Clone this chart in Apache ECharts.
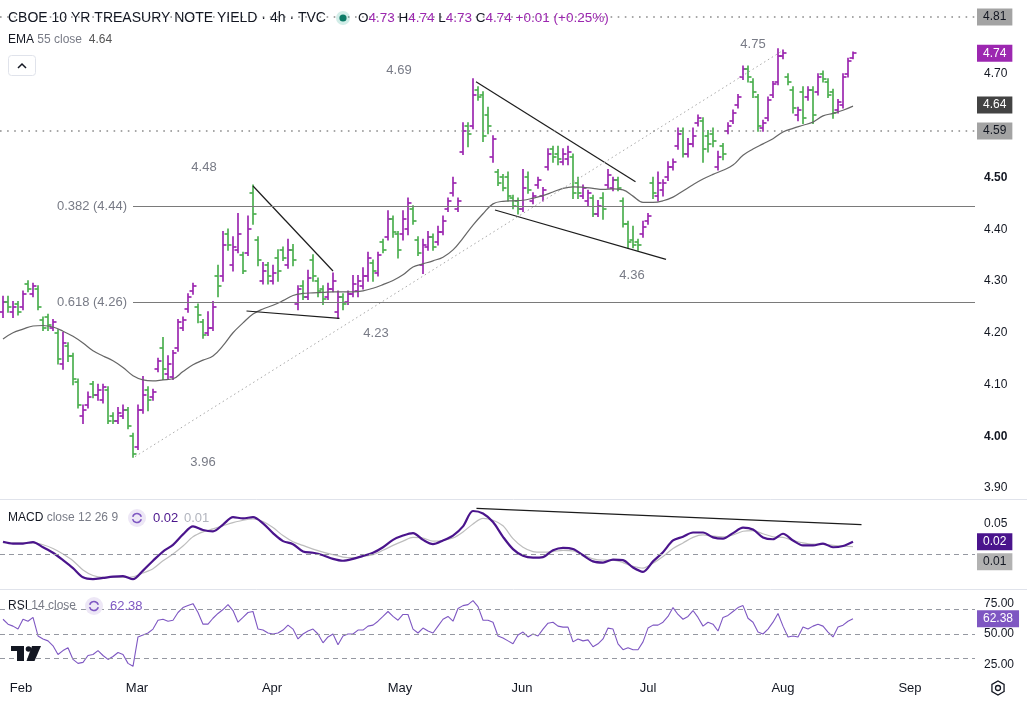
<!DOCTYPE html>
<html><head><meta charset="utf-8">
<script src="https://cdn.jsdelivr.net/npm/echarts@6.0.0/dist/echarts.min.js"></script>
<style>html,body{margin:0;padding:0;background:#fff}#c{width:1027px;height:703px}</style>
</head><body><div id="c"></div>
<script>
// ---------- DATA ----------
const opens = [
4.24,4.26,4.24,4.255,4.25,4.295,4.275,4.285,4.225,4.23,
4.21,4.20,4.14,4.175,4.155,4.105,4.04,4.06,4.10,4.08,
4.07,4.09,4.04,4.03,4.04,4.05,4.00,3.98,4.05,4.09,
4.075,4.13,4.17,4.12,4.115,4.17,4.21,4.245,4.28,4.25,
4.22,4.20,4.21,4.31,4.31,4.39,4.33,4.36,4.35,4.355,
4.47,4.38,4.30,4.33,4.30,4.345,4.36,4.33,4.36,4.255,
4.29,4.27,4.34,4.30,4.285,4.27,4.285,4.24,4.27,4.26,
4.275,4.28,4.29,4.31,4.335,4.315,4.375,4.385,4.42,4.39,
4.39,4.40,4.44,4.38,4.33,4.365,4.385,4.375,4.395,4.44,
4.47,4.44,4.55,4.60,4.60,4.67,4.66,4.62,4.54,4.51,
4.50,4.50,4.46,4.455,4.44,4.50,4.455,4.485,4.465,4.52,
4.555,4.545,4.53,4.535,4.54,4.49,4.465,4.455,4.46,4.43,
4.46,4.485,4.48,4.495,4.455,4.41,4.38,4.375,4.39,4.415,
4.49,4.465,4.475,4.50,4.52,4.56,4.59,4.545,4.565,4.605,
4.61,4.58,4.585,4.52,4.56,4.59,4.61,4.64,4.695,4.71,
4.685,4.655,4.595,4.615,4.66,4.685,4.735,4.695,4.67,4.62,
4.665,4.655,4.67,4.665,4.70,4.685,4.665,4.63,4.64,4.70,
4.73];
const highs = [
4.27,4.27,4.26,4.26,4.28,4.30,4.295,4.29,4.23,4.235,
4.225,4.205,4.20,4.18,4.16,4.11,4.06,4.085,4.105,4.10,
4.10,4.095,4.045,4.055,4.06,4.055,4.005,4.06,4.115,4.095,
4.09,4.15,4.19,4.155,4.165,4.225,4.23,4.275,4.295,4.255,
4.225,4.24,4.26,4.33,4.395,4.40,4.385,4.43,4.355,4.425,
4.485,4.385,4.335,4.335,4.33,4.36,4.365,4.38,4.37,4.29,
4.30,4.32,4.35,4.305,4.29,4.295,4.315,4.28,4.275,4.28,
4.31,4.31,4.325,4.355,4.34,4.355,4.38,4.435,4.425,4.395,
4.435,4.46,4.445,4.385,4.38,4.395,4.39,4.405,4.425,4.46,
4.50,4.46,4.605,4.605,4.69,4.675,4.665,4.635,4.58,4.515,
4.505,4.51,4.465,4.46,4.515,4.51,4.47,4.50,4.48,4.555,
4.56,4.56,4.555,4.56,4.545,4.50,4.485,4.475,4.465,4.455,
4.47,4.515,4.50,4.50,4.46,4.415,4.405,4.38,4.415,4.43,
4.50,4.51,4.495,4.53,4.535,4.595,4.595,4.575,4.595,4.62,
4.615,4.59,4.595,4.55,4.565,4.605,4.63,4.66,4.715,4.715,
4.69,4.66,4.61,4.655,4.685,4.748,4.746,4.70,4.675,4.635,
4.675,4.675,4.675,4.70,4.705,4.69,4.67,4.65,4.70,4.73,
4.742];
const lows = [
4.23,4.24,4.23,4.235,4.245,4.28,4.27,4.245,4.205,4.205,
4.205,4.14,4.13,4.145,4.10,4.055,4.025,4.055,4.075,4.07,
4.065,4.025,4.025,4.025,4.035,4.015,3.96,3.975,4.045,4.05,
4.07,4.125,4.11,4.11,4.11,4.165,4.205,4.24,4.275,4.22,
4.19,4.195,4.205,4.27,4.30,4.36,4.32,4.355,4.315,4.35,
4.41,4.33,4.295,4.295,4.295,4.30,4.34,4.325,4.33,4.245,
4.265,4.265,4.30,4.27,4.255,4.265,4.28,4.228,4.245,4.255,
4.27,4.27,4.285,4.30,4.30,4.31,4.355,4.38,4.385,4.345,
4.38,4.39,4.41,4.35,4.315,4.36,4.36,4.37,4.39,4.435,
4.465,4.435,4.545,4.56,4.595,4.65,4.57,4.585,4.53,4.485,
4.475,4.455,4.44,4.43,4.435,4.47,4.45,4.48,4.455,4.515,
4.53,4.525,4.525,4.525,4.46,4.46,4.46,4.445,4.425,4.425,
4.42,4.48,4.475,4.475,4.405,4.365,4.365,4.36,4.385,4.41,
4.46,4.455,4.465,4.495,4.515,4.555,4.54,4.54,4.56,4.60,
4.53,4.55,4.56,4.515,4.535,4.585,4.605,4.635,4.69,4.685,
4.655,4.59,4.59,4.61,4.655,4.68,4.73,4.68,4.625,4.61,
4.605,4.65,4.605,4.66,4.685,4.655,4.615,4.625,4.635,4.695,
4.73];
const closes = [
4.26,4.25,4.25,4.24,4.275,4.285,4.29,4.25,4.21,4.215,
4.22,4.15,4.18,4.155,4.11,4.06,4.05,4.075,4.08,4.09,
4.095,4.03,4.03,4.045,4.05,4.02,3.965,4.05,4.08,4.07,
4.085,4.145,4.13,4.14,4.16,4.22,4.225,4.27,4.29,4.235,
4.195,4.21,4.25,4.29,4.37,4.37,4.365,4.39,4.32,4.40,
4.43,4.34,4.32,4.31,4.315,4.32,4.345,4.36,4.34,4.285,
4.27,4.305,4.31,4.28,4.265,4.285,4.30,4.27,4.255,4.275,
4.295,4.30,4.31,4.345,4.32,4.35,4.36,4.42,4.395,4.36,
4.42,4.45,4.415,4.355,4.37,4.385,4.365,4.395,4.415,4.455,
4.49,4.455,4.59,4.585,4.66,4.655,4.58,4.60,4.575,4.49,
4.48,4.465,4.445,4.44,4.48,4.475,4.465,4.495,4.475,4.545,
4.54,4.535,4.545,4.55,4.47,4.47,4.48,4.47,4.43,4.445,
4.44,4.505,4.495,4.48,4.41,4.375,4.37,4.37,4.405,4.425,
4.47,4.49,4.49,4.52,4.53,4.585,4.545,4.565,4.58,4.615,
4.555,4.565,4.57,4.54,4.545,4.60,4.625,4.655,4.71,4.695,
4.665,4.60,4.605,4.65,4.68,4.735,4.74,4.685,4.635,4.63,
4.615,4.67,4.62,4.695,4.69,4.66,4.625,4.645,4.695,4.725,
4.74];
// EMA 55, MACD and signal: one reading every second bar
const ema55 = [
4.188,4.200,4.207,4.213,4.214,4.211,4.203,4.193,4.180,4.165,
4.155,4.146,4.133,4.117,4.109,4.107,4.109,4.111,4.125,4.138,
4.147,4.155,4.175,4.200,4.219,4.236,4.246,4.253,4.262,4.272,
4.276,4.277,4.278,4.279,4.279,4.279,4.281,4.286,4.293,4.301,
4.312,4.327,4.333,4.339,4.346,4.360,4.383,4.408,4.430,4.449,
4.454,4.455,4.456,4.460,4.465,4.472,4.479,4.482,4.481,4.479,
4.477,4.478,4.476,4.464,4.452,4.452,4.455,4.462,4.474,4.486,
4.497,4.506,4.514,4.524,4.543,4.555,4.565,4.575,4.588,4.595,
4.601,4.607,4.619,4.624,4.630,4.638];
const macdLine = [
0.020,0.017,0.017,0.0195,0.011,0.002,-0.010,-0.023,-0.038,-0.041,
-0.039,-0.037,-0.036,-0.041,-0.027,-0.011,0.004,0.015,0.032,0.045,
0.039,0.037,0.048,0.060,0.058,0.060,0.050,0.034,0.021,0.016,
0.004,0.002,-0.002,-0.008,-0.011,-0.008,-0.003,0.002,0.011,0.023,
0.030,0.034,0.023,0.016,0.022,0.030,0.045,0.070,0.066,0.052,
0.028,0.008,-0.003,-0.006,-0.005,0.006,0.010,0.008,-0.002,-0.012,
-0.014,-0.009,-0.010,-0.022,-0.029,-0.012,0.003,0.022,0.028,0.035,
0.035,0.027,0.025,0.034,0.043,0.040,0.027,0.024,0.033,0.022,
0.014,0.014,0.017,0.011,0.013,0.020];
const signalLine = [
0.018,0.018,0.018,0.018,0.015,0.009,0.000,-0.011,-0.026,-0.035,
-0.038,-0.038,-0.038,-0.037,-0.031,-0.024,-0.011,0.000,0.013,0.028,
0.036,0.041,0.046,0.051,0.055,0.057,0.053,0.043,0.030,0.020,
0.014,0.008,0.003,-0.001,-0.005,-0.006,-0.004,-0.001,0.006,0.014,
0.021,0.027,0.026,0.021,0.022,0.026,0.036,0.049,0.058,0.055,
0.046,0.025,0.011,0.004,0.003,0.004,0.006,0.005,-0.001,-0.008,
-0.010,-0.010,-0.014,-0.020,-0.023,-0.015,-0.004,0.009,0.018,0.027,
0.031,0.029,0.028,0.031,0.037,0.038,0.033,0.028,0.027,0.022,
0.018,0.016,0.016,0.014,0.013,0.012];
const rsi14 = [
62.0,58.0,56.4,54.0,62.0,60.4,63.5,48.4,46.0,44.4,
40.4,33.3,36.5,38.8,29.3,26.1,26.9,32.5,33.3,36.5,
32.5,29.3,31.7,34.9,33.3,26.1,23.7,47.6,49.2,50.8,
54.0,61.2,62.0,60.4,61.2,67.5,71.5,73.1,74.7,67.5,
58.0,58.0,62.8,66.7,69.9,73.9,69.1,59.6,63.5,67.5,
68.3,54.0,53.2,50.8,50.0,50.8,53.2,57.2,54.0,46.0,
50.0,52.4,54.0,50.0,42.8,47.6,50.0,41.2,48.4,50.0,
50.0,53.2,53.2,56.4,57.2,60.4,64.3,68.3,64.3,61.2,
65.9,65.9,54.0,50.8,54.8,52.4,50.8,56.4,62.0,64.3,
60.4,70.7,73.1,73.9,77.1,72.3,61.2,61.2,59.6,48.4,
46.8,44.4,42.0,49.2,51.6,47.6,50.0,48.4,54.0,58.8,
59.6,56.4,55.6,55.6,43.6,46.0,44.4,45.2,39.6,42.0,
46.0,54.8,54.0,42.0,37.2,38.8,37.2,37.2,43.6,54.8,
57.2,57.2,59.6,64.3,71.5,65.9,62.0,64.3,69.1,63.5,
56.4,59.6,58.0,52.4,63.5,65.1,68.3,71.5,73.1,62.8,
59.6,51.6,50.0,54.0,59.6,66.7,56.4,47.6,48.4,47.6,
55.6,54.0,56.4,58.0,56.4,51.6,47.6,55.6,57.2,60.4,
62.38];
const monthNames = ['Feb','Mar','Apr','May','Jun','Jul','Aug','Sep'];
const monthBar   = [3.6, 26.8, 53.8, 79.4, 103.8, 129, 156, 181.4];
const priceTicks = [3.9,4.0,4.1,4.2,4.3,4.4,4.5,4.7];
const macdTicks = [0.05];
const rsiTicks = [25,50,75];
const rsiBands = [70,50,30];
// drawings, in (bar index, value)
const trendLines = [
  [[50,4.4836],[66,4.3193]],
  [[48.7,4.2420],[67.3,4.2279]],
  [[94.6,4.6851],[126.5,4.4919]],
  [[98.4,4.4372],[132.6,4.3419]]
];
const channelLine = [[26.4,3.9605],[155.9,4.745]];
const fibLevels = [{name:'0.382 (4.44)', value:4.444, fromBar:26},{name:'0.618 (4.26)', value:4.2588, fromBar:26}];
const hLevels = [4.8063, 4.5899];
const pivotTexts = ['4.48','3.96','4.23','4.69','4.36','4.75'];
const pivotAt = [[40.2,4.52],[40,3.950],[74.6,4.1995],[79.2,4.7077],[125.8,4.3116],[150,4.758]];
const macdTrend = [[94.7,0.0744],[171.7,0.0478]];
const lastClose = 4.74, lastEma = 4.64, lastMacd = 0.02, lastSignal = 0.012, lastRsi = 62.38;

// ---------- CHART ----------
const UP = '#9c27b0', DOWN = '#4caf50';
const FONT = '"Liberation Sans", Arial, sans-serif';
const X_MIN = -0.6, X_MAX = 194.4;
const bars = opens.map((o,i)=>[i,o,highs[i],lows[i],closes[i]]);
const emaData = ema55.map((v,k)=>[k*2,v]);
const macdData = macdLine.map((v,k)=>[k*2,v]);
const sigData = signalLine.map((v,k)=>[k*2,v]);
const rsiData = rsi14.map((v,i)=>[i,v]);

function tag(value, text, bg, fg, offsetY){
  return {yAxis:value, lineStyle:{color:'rgba(0,0,0,0)'},
    label:{show:true, position:'end', formatter:text, color:fg, backgroundColor:bg,
      padding:[3,6,2,6], fontSize:12, fontFamily:FONT, distance:2, offset:[0, offsetY||0]}};
}

const chart = echarts.init(document.getElementById('c'));
const axisCommon = {splitLine:{show:false}, axisLine:{show:false}, axisTick:{show:false}};
const LEG = 12, HDR = 13.5;
const option = {
  animation:false,
  backgroundColor:'#ffffff',
  textStyle:{fontFamily:FONT},
  grid:[
    {left:0, right:52, top:0, height:499},
    {left:0, right:52, top:500, height:89},
    {left:0, right:52, top:590, height:80}
  ],
  xAxis:[0,1,2].map(g=>Object.assign({type:'value', gridIndex:g, min:X_MIN, max:X_MAX}, axisCommon, {
    axisLabel: g===2 ? {customValues:monthBar, color:'#131722', fontSize:13, margin:12,
      formatter:(v)=>{let b=0;monthBar.forEach((m,k)=>{if(Math.abs(m-v)<Math.abs(monthBar[b]-v))b=k;});return monthNames[b];}} : {show:false}
  })),
  yAxis:[
    Object.assign({type:'value', gridIndex:0, position:'right', min:3.8787, max:4.843}, axisCommon, {
      axisLabel:{customValues:priceTicks, color:'#131722', fontSize:12, margin:9,
        formatter:(v)=> (Math.abs(v-4.0)<1e-9||Math.abs(v-4.5)<1e-9) ? '{b|'+v.toFixed(2)+'}' : v.toFixed(2),
        rich:{b:{fontWeight:'bold', fontSize:12, color:'#131722', fontFamily:FONT}}}}),
    Object.assign({type:'value', gridIndex:1, position:'right', min:-0.057, max:0.08795}, axisCommon, {
      axisLabel:{customValues:macdTicks, color:'#131722', fontSize:12, margin:9, formatter:(v)=>v.toFixed(2)}}),
    Object.assign({type:'value', gridIndex:2, position:'right', min:20.7, max:85.8}, axisCommon, {
      axisLabel:{customValues:rsiTicks, color:'#131722', fontSize:12, margin:9, formatter:(v)=>v.toFixed(2)}})
  ],
  series:[
    {
      type:'custom', name:'ohlc', xAxisIndex:0, yAxisIndex:0, z:3,
      encode:{x:0, y:[1,2,3,4]},
      data:bars,
      renderItem:(params, api)=>{
        const i = api.value(0);
        const o = api.value(1), h = api.value(2), l = api.value(3), c = api.value(4);
        const po = api.coord([i,o]), ph = api.coord([i,h]), pl = api.coord([i,l]), pc = api.coord([i,c]);
        const x = Math.round(po[0]);
        const oy = Math.round(po[1]), cy = Math.round(pc[1]);
        const col = c >= o ? UP : DOWN;
        const st = {stroke:col, lineWidth:1.7};
        return {type:'group', children:[
          {type:'line', shape:{x1:x, y1:ph[1]-0.8, x2:x, y2:pl[1]+0.8}, style:st},
          {type:'line', shape:{x1:x-3.5, y1:oy, x2:x, y2:oy}, style:st},
          {type:'line', shape:{x1:x, y1:cy, x2:x+3.5, y2:cy}, style:st}
        ]};
      }
    },
    {
      type:'line', name:'EMA 55', xAxisIndex:0, yAxisIndex:0, data:emaData, smooth:0.4,
      symbol:'none', clip:false, z:4,
      lineStyle:{color:'#666666', width:1.2},
      markLine:{
        silent:true, symbol:['none','none'], animation:false,
        label:{show:false},
        data:[].concat(
          trendLines.map(t=>[{coord:t[0], lineStyle:{color:'#1c1c1c', width:1.2, type:'solid'}},{coord:t[1]}]),
          [[{coord:channelLine[0], lineStyle:{color:'#a8a8a8', width:1, type:[1.5,3]}},{coord:channelLine[1]}]],
          fibLevels.map(f=>[{coord:[f.fromBar,f.value], lineStyle:{color:'#7a7a7a', width:1, type:'solid'},
            label:{show:true, position:'start', formatter:f.name, color:'#787b86', fontSize:13, fontFamily:FONT, distance:6}},
            {coord:[X_MAX,f.value]}]),
          hLevels.map(v=>{const t=tag(v, v.toFixed(2), '#a3a3a3', '#131722'); t.lineStyle={color:'#8a8a8a', width:1.6, type:[1.6,5.5]}; return t;}),
          [tag(lastClose, lastClose.toFixed(2), '#9c27b0', '#ffffff'), tag(lastEma, lastEma.toFixed(2), '#434343', '#ffffff')]
        )
      },
      markPoint:{
        silent:true, symbol:'circle', symbolSize:1, itemStyle:{color:'rgba(0,0,0,0)'},
        label:{show:true, position:'inside', color:'#787b86', fontSize:13, fontFamily:FONT},
        data:pivotTexts.map((t,k)=>({coord:pivotAt[k], label:{formatter:t}}))
      }
    },
    {
      type:'line', name:'MACD', xAxisIndex:1, yAxisIndex:1, data:sigData, smooth:0.3,
      symbol:'none', clip:false, z:3,
      lineStyle:{color:'#bdbdbd', width:1.2},
      markLine:{silent:true, symbol:['none','none'], label:{show:false},
        data:[
          {yAxis:0, lineStyle:{color:'#9598a1', width:1, type:[5,4]}},
          tag(lastSignal, '0.01', '#b2b2b2', '#131722', 14)
        ]}
    },
    {
      type:'line', name:'MACD line', xAxisIndex:1, yAxisIndex:1, data:macdData, smooth:0.3,
      symbol:'none', clip:false, z:4,
      lineStyle:{color:'#4a148c', width:2.2},
      markLine:{silent:true, symbol:['none','none'], label:{show:false},
        data:[
          [{coord:macdTrend[0], lineStyle:{color:'#1c1c1c', width:1.2, type:'solid'}},{coord:macdTrend[1]}],
          tag(lastMacd, lastMacd.toFixed(2), '#4a148c', '#ffffff')
        ]}
    },
    {
      type:'line', name:'RSI', xAxisIndex:2, yAxisIndex:2, data:rsiData,
      symbol:'none', clip:false, z:4,
      lineStyle:{color:'#7e57c2', width:1.1},
      markLine:{silent:true, symbol:['none','none'], label:{show:false},
        data:[].concat(
          rsiBands.map(b=>({yAxis:b, lineStyle:{color:'#9598a1', width:1, type:[5,4]}})),
          [tag(lastRsi, lastRsi.toFixed(2), '#7e57c2', '#ffffff')]
        )}
    }
  ],
  graphic:[
    {type:'line', shape:{x1:0,y1:499.5,x2:1027,y2:499.5}, style:{stroke:'#e0e3eb', lineWidth:1}, z:1},
    {type:'line', shape:{x1:0,y1:589.5,x2:1027,y2:589.5}, style:{stroke:'#e0e3eb', lineWidth:1}, z:1},
    {type:'text', x:8, y:18, z:10, style:{text:'CBOE 10 YR TREASURY NOTE YIELD · 4h · TVC', font:'14px '+FONT, fill:'#131722', verticalAlign:'middle'}},
    {type:'circle', shape:{cx:343, cy:18, r:7}, style:{fill:'rgba(8,153,129,0.18)'}, z:10},
    {type:'circle', shape:{cx:343, cy:18, r:3.6}, style:{fill:'#0b7a66'}, z:10},
    {type:'text', x:358, y:18, z:10, style:{
      text:'{a|O}{b|4.73} {a|H}{b|4.74} {a|L}{b|4.73} {a|C}{b|4.74} {b|+0.01 (+0.25%)}',
      verticalAlign:'middle', font:HDR+'px '+FONT,
      rich:{a:{fill:'#131722', color:'#131722', fontSize:HDR, fontFamily:FONT}, b:{fill:'#9c27b0', color:'#9c27b0', fontSize:HDR, fontFamily:FONT}}}},
    {type:'text', x:8, y:40, z:10, style:{
      text:'{a|EMA} {g|55 close}  {v|4.64}', verticalAlign:'middle', font:LEG+'px '+FONT,
      rich:{a:{color:'#131722', fill:'#131722', fontSize:LEG, fontFamily:FONT}, g:{color:'#787b86', fill:'#787b86', fontSize:LEG, fontFamily:FONT}, v:{color:'#555555', fill:'#555555', fontSize:LEG, fontFamily:FONT}}}},
    {type:'rect', shape:{x:8.5, y:55.5, width:27, height:20, r:3}, style:{fill:'#fff', stroke:'#e0e3eb', lineWidth:1}, z:10},
    {type:'polyline', shape:{points:[[18,68],[22,64],[26,68]]}, style:{stroke:'#131722', lineWidth:1.5, fill:null}, z:11},
    {type:'text', x:8, y:518, z:10, style:{
      text:'{a|MACD} {g|close 12 26 9}', verticalAlign:'middle', font:LEG+'px '+FONT,
      rich:{a:{color:'#131722', fill:'#131722', fontSize:LEG, fontFamily:FONT}, g:{color:'#787b86', fill:'#787b86', fontSize:LEG, fontFamily:FONT}}}},
    {type:'circle', shape:{cx:137, cy:518, r:9}, style:{fill:'#ede7f6'}, z:10},
    {type:'arc', shape:{cx:137, cy:518, r:4.5, startAngle:0.3, endAngle:2.9}, style:{stroke:'#7e57c2', lineWidth:1.6, fill:null}, z:11},
    {type:'arc', shape:{cx:137, cy:518, r:4.5, startAngle:3.45, endAngle:6.0}, style:{stroke:'#7e57c2', lineWidth:1.6, fill:null}, z:11},
    {type:'text', x:153, y:518, z:10, style:{text:'0.02', font:'13px '+FONT, fill:'#4a148c', verticalAlign:'middle'}},
    {type:'text', x:184, y:518, z:10, style:{text:'0.01', font:'13px '+FONT, fill:'#b2b5be', verticalAlign:'middle'}},
    {type:'text', x:8, y:606, z:10, style:{
      text:'{a|RSI} {g|14 close}', verticalAlign:'middle', font:LEG+'px '+FONT,
      rich:{a:{color:'#131722', fill:'#131722', fontSize:LEG, fontFamily:FONT}, g:{color:'#787b86', fill:'#787b86', fontSize:LEG, fontFamily:FONT}}}},
    {type:'circle', shape:{cx:94, cy:606, r:9}, style:{fill:'#ede7f6'}, z:10},
    {type:'arc', shape:{cx:94, cy:606, r:4.5, startAngle:0.3, endAngle:2.9}, style:{stroke:'#7e57c2', lineWidth:1.6, fill:null}, z:11},
    {type:'arc', shape:{cx:94, cy:606, r:4.5, startAngle:3.45, endAngle:6.0}, style:{stroke:'#7e57c2', lineWidth:1.6, fill:null}, z:11},
    {type:'text', x:110, y:606, z:10, style:{text:'62.38', font:'13px '+FONT, fill:'#7e57c2', verticalAlign:'middle'}},
    {type:'rect', shape:{x:11, y:646, width:13, height:5}, style:{fill:'#131722'}, z:10},
    {type:'rect', shape:{x:17, y:646, width:7, height:15}, style:{fill:'#131722'}, z:10},
    {type:'circle', shape:{cx:28.5, cy:649, r:2.8}, style:{fill:'#131722'}, z:10},
    {type:'polygon', shape:{points:[[32,646],[41,646],[34.5,661],[26.5,661]]}, style:{fill:'#131722'}, z:10},
    {type:'polygon', shape:{points:[0,1,2,3,4,5].map(k=>[998+7*Math.cos(Math.PI/6+k*Math.PI/3), 688+7*Math.sin(Math.PI/6+k*Math.PI/3)])}, style:{fill:null, stroke:'#131722', lineWidth:1.3}, z:10},
    {type:'circle', shape:{cx:998, cy:688, r:2.5}, style:{fill:null, stroke:'#131722', lineWidth:1.3}, z:10}
  ]
};
chart.setOption(option);
</script>
</body></html>
